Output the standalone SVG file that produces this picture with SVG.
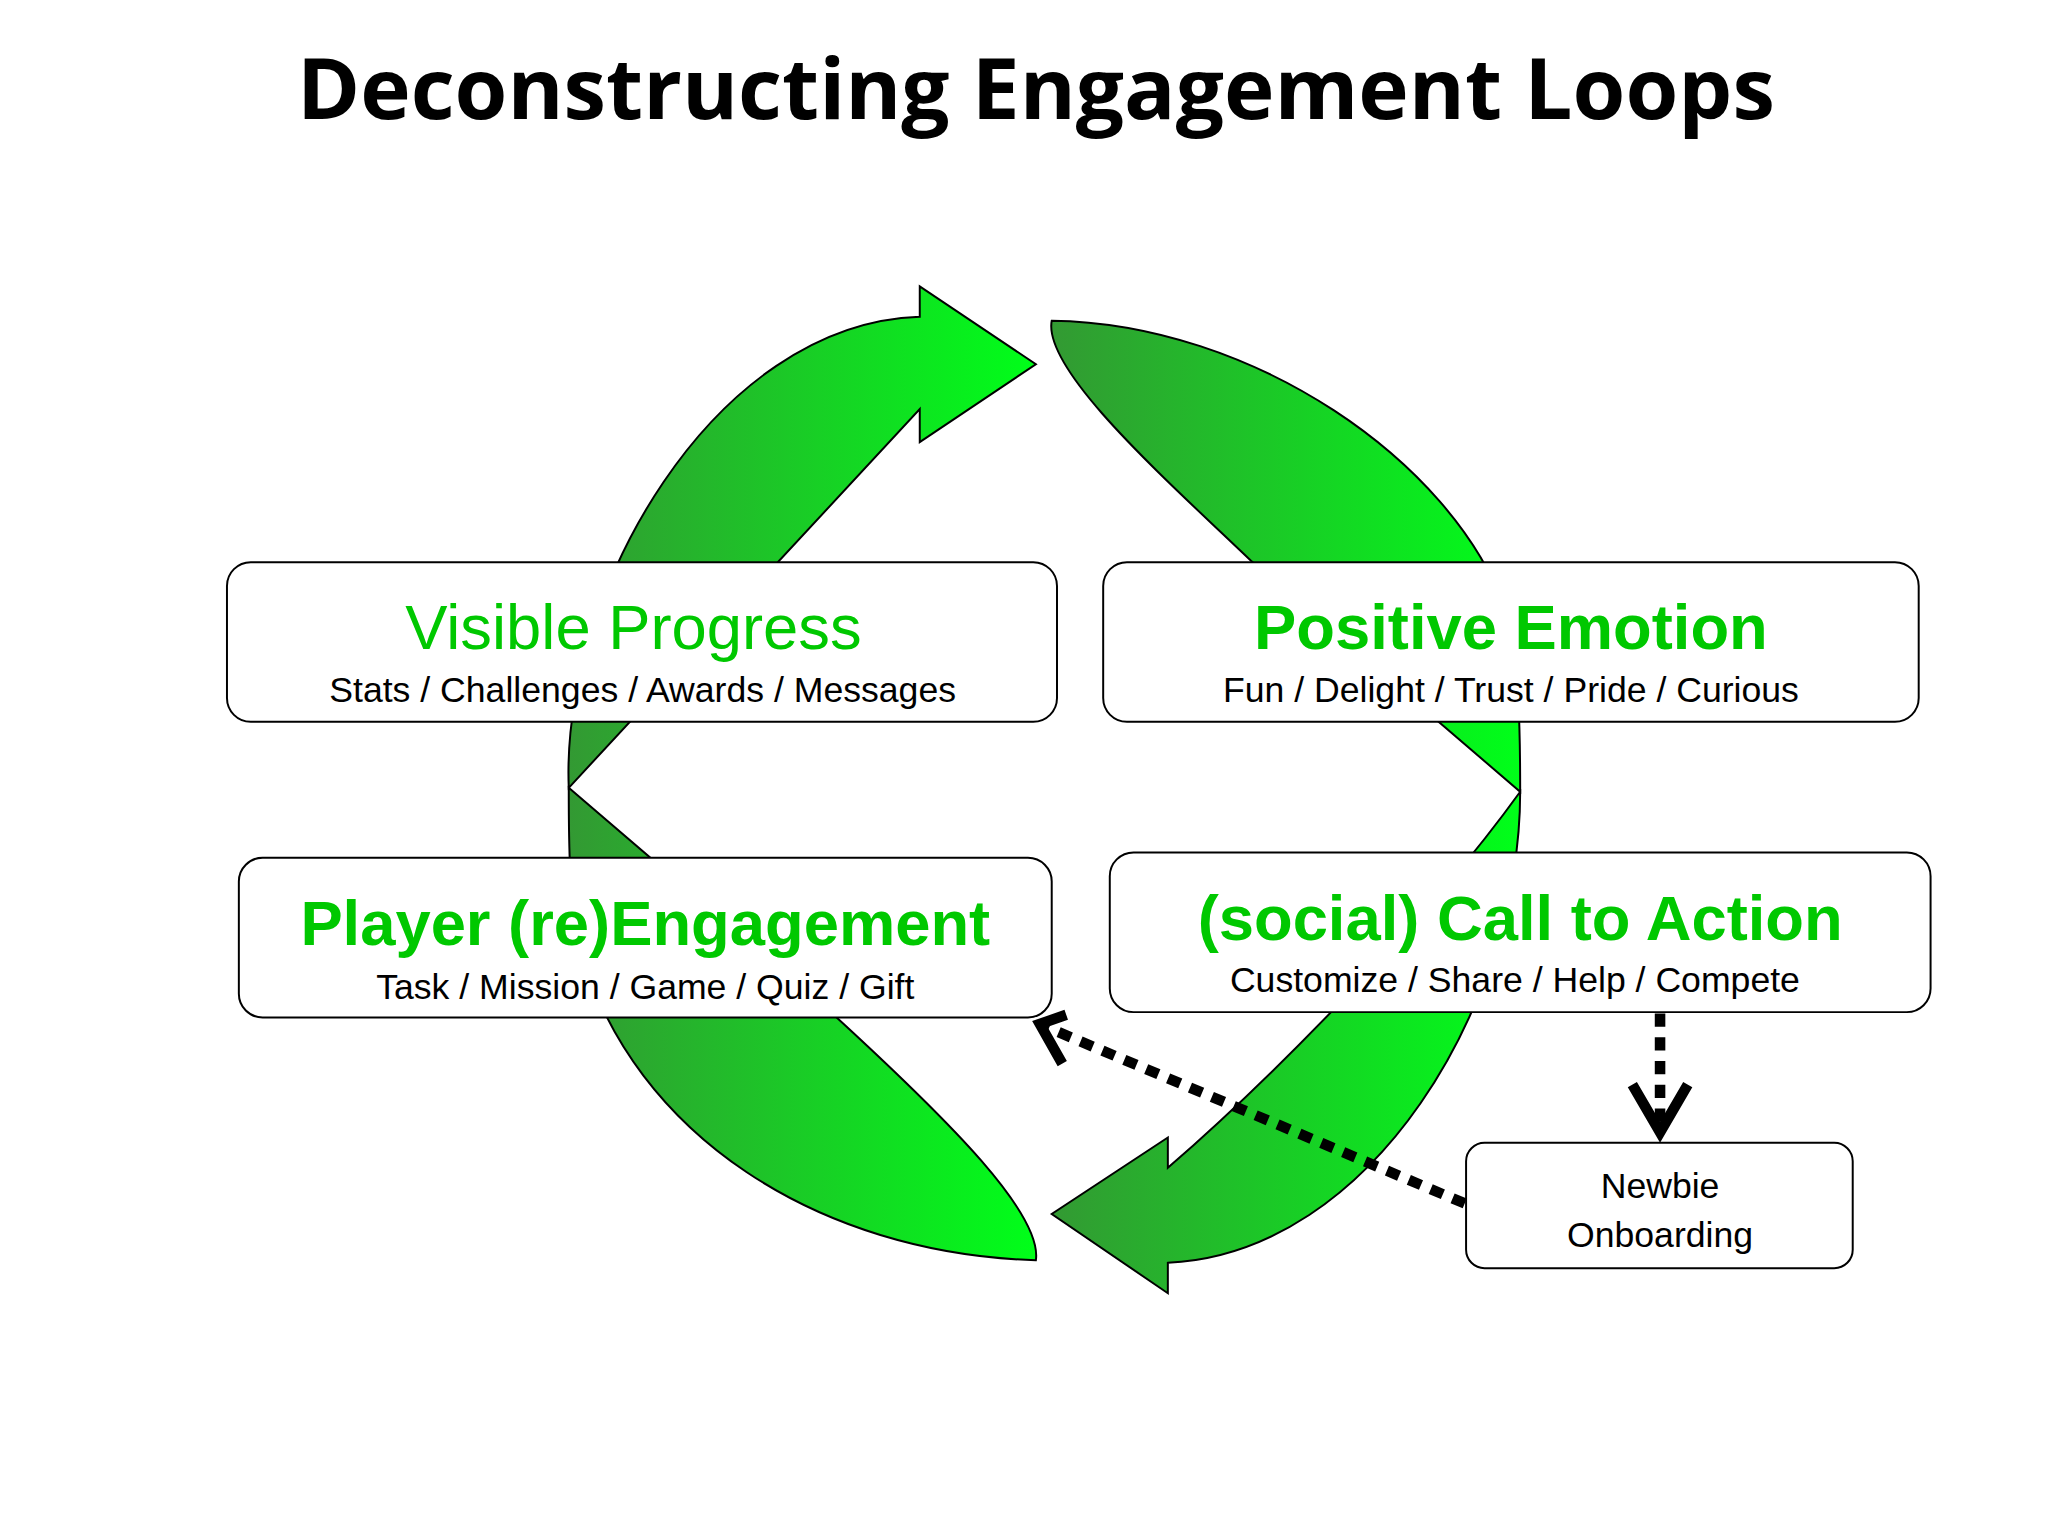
<svg xmlns="http://www.w3.org/2000/svg" width="2048" height="1536" viewBox="0 0 2048 1536">
<defs>
<linearGradient id="g" x1="0" y1="0" x2="1" y2="0"><stop offset="0" stop-color="#339933"/><stop offset="1" stop-color="#00ff19"/></linearGradient>
<style>
.arr{fill:url(#g);stroke:#000;stroke-width:1.5}
.box{fill:#fff;stroke:#000;stroke-width:1.5}
.h{font-family:"Liberation Sans",Arial,sans-serif;fill:#00c800;font-size:48px;text-anchor:middle}
.s{font-family:"Liberation Sans",Arial,sans-serif;fill:#000;font-size:27px;text-anchor:middle}
.d{fill:none;stroke:#000;stroke-width:8}
</style>
</defs>
<rect width="2048" height="1536" fill="#fff"/>
<g transform="scale(1.3196)">
<text x="785" y="90" font-family="'Open Sans','Liberation Sans',sans-serif" font-weight="bold" font-size="64" text-anchor="middle" textLength="1120" lengthAdjust="spacingAndGlyphs">Deconstructing Engagement Loops</text>
<g id="arrows">
<path class="arr" d="M431,597 C425,450 540,245 697,240 L697,217 L785,276 L697,335 L697,310 L431,597 Z"/>
<path class="arr" d="M797,243 C950,245 1100,350 1140,460 C1152,500 1152,560 1152,600 L948,425 C880,360 790,280 797,243 Z"/>
<path class="arr" d="M431,597 L634,771 C720,850 790,920 785,955 C620,950 480,860 440,720 C431,680 431,640 431,597 Z"/>
<path class="arr" d="M1152,600 C1152,760 1040,950 885,957 L885,980 L797,920 L885,862 L885,885 C960,820 1080,700 1152,600 Z"/>
</g>
<g id="vp"><rect class="box" x="172" y="426" width="629" height="121" rx="18"/><text class="h" x="480" y="492">Visible Progress</text><text class="s" x="487" y="532">Stats / Challenges / Awards / Messages</text></g>
<g id="pe"><rect class="box" x="836" y="426" width="618" height="121" rx="18"/><text class="h" x="1145" y="492" font-weight="bold">Positive Emotion</text><text class="s" x="1145" y="532">Fun / Delight / Trust / Pride / Curious</text></g>
<g id="pr"><rect class="box" x="181" y="650" width="616" height="121" rx="18"/><text class="h" x="489" y="716" font-weight="bold">Player (re)Engagement</text><text class="s" x="489" y="757">Task / Mission / Game / Quiz  / Gift</text></g>
<g id="ca"><rect class="box" x="841" y="646" width="622" height="121" rx="18"/><text class="h" x="1152" y="712" font-weight="bold">(social) Call to Action</text><text class="s" x="1148" y="752">Customize / Share / Help / Compete</text></g>
<g id="nb"><rect class="box" x="1111" y="866" width="293" height="95" rx="14"/><text class="s" x="1258" y="908">Newbie</text><text class="s" x="1258" y="945">Onboarding</text></g>
<g id="connectors">
<path class="d" stroke-dasharray="10 8" d="M1110,912 L790,777"/>
<path class="d" d="M808,769 L788,776 L805,806"/>
<path class="d" stroke-dasharray="10 8" d="M1258,768 L1258,852"/>
<path class="d" d="M1237,822 L1258,858 L1279,822"/>
</g>
</g>
</svg>
